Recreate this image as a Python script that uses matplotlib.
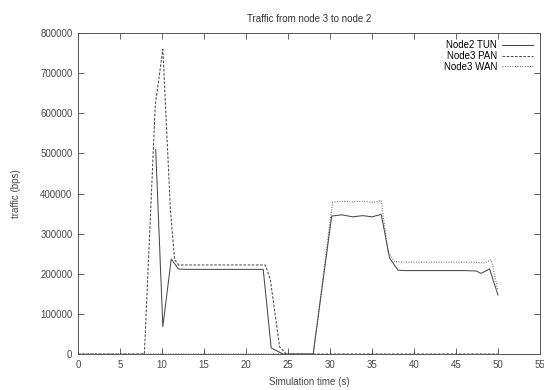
import numpy as np
import matplotlib.pyplot as plt

# Node2 TUN (solid)
t_tun = [9.25, 10.1, 11.1, 11.95, 13, 14, 15, 16, 17, 18, 19, 20, 21, 22.05, 23.0, 24.4,
         25, 26, 27, 28.0, 30.2, 31.4, 32.7, 33.9, 35.0, 36.1, 37.1, 38.1,
         39, 40, 41, 42, 43, 44, 45, 46, 47.4, 48.0, 49.0, 50.0]
v_tun = [510000, 68000, 237000, 212000, 211000, 211000, 211000, 211000, 211000, 211000, 211000,
         211000, 211000, 211000, 15000, 0, 0, 0, 0, 0, 344000, 347000, 342000, 345000, 342000,
         348000, 239000, 209000, 208000, 208000, 208000, 208000, 208000, 208000, 208000, 208000,
         207000, 201000, 212000, 147000]

# Node3 PAN (dashed)
t_pan = [0, 2, 4, 6, 7.9, 9.2, 10.1, 11.0, 11.5, 12.0, 13, 14, 15, 16, 17, 18, 19, 20, 21, 22.3,
         22.9, 24.0, 24.8, 26, 28, 30, 35, 40, 45, 50]
v_pan = [0, 0, 0, 0, 0, 620000, 760000, 360000, 235000, 222000, 222000, 222000, 222000, 222000,
         222000, 222000, 222000, 222000, 222000, 222000, 185000, 18000, 0, 0, 0, 0, 0, 0, 0, 0]

# Node3 WAN (dotted)
t_wan = [0, 5, 10, 15, 20, 25, 28.0, 30.3, 31.4, 32.7, 33.9, 35.1, 36.1, 36.9, 37.7,
         39, 40, 41, 42, 43, 44, 45, 46, 47, 48.4, 49.2, 50.0]
v_wan = [0, 0, 0, 0, 0, 0, 0, 378000, 381000, 379000, 381000, 378000, 383000, 255000, 230000,
         229000, 229000, 229000, 229000, 229000, 229000, 229000, 229000, 229000, 227000, 235000,
         158000]

x_ticks = list(range(0, 56, 5))
y_ticks = list(range(0, 800001, 100000))

plt.rcParams['font.family'] = ['Liberation Sans', 'DejaVu Sans']
line_col = '#4a4a4a'

fig = plt.figure(figsize=(5.44, 3.90), dpi=100)
ax = fig.add_axes([0.1434, 0.0923, 0.8492, 0.8227])

ax.plot(t_tun, v_tun, color=line_col, lw=0.75, label='Node2 TUN')
ax.plot(t_pan, v_pan, color=line_col, lw=0.75, dashes=(2.5, 1.5), label='Node3 PAN')
ax.plot(t_wan, v_wan, color=line_col, lw=0.75, dashes=(0.8, 1.6), label='Node3 WAN')

ax.set_xlim(0, 55)
ax.set_ylim(0, 800000)
ax.set_xticks(x_ticks)
ax.set_yticks(y_ticks)
ax.tick_params(direction='in', top=True, right=True, length=4, width=0.6,
               labelsize=7, colors='#4a4a4a', pad=4)
for s in ax.spines.values():
    s.set_linewidth(0.7)
    s.set_color('#555555')

ax.set_title('Traffic from node 3 to node 2', fontsize=7, color='#333333', pad=8)
ax.set_xlabel('Simulation time (s)', fontsize=7, color='#4a4a4a', labelpad=5)
ax.set_ylabel('traffic (bps)', fontsize=7, color='#4a4a4a', labelpad=14)

ax.legend(loc='upper right', frameon=False, markerfirst=False, fontsize=7,
          handlelength=3.2, labelspacing=0.1, borderaxespad=0.3, handletextpad=0.5)

fig.savefig('out.png', dpi=100)
